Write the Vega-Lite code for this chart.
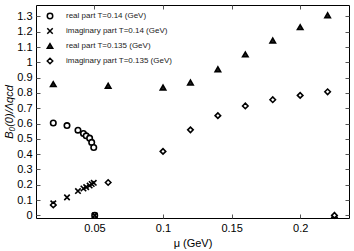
{
  "$schema": "https://vega.github.io/schema/vega-lite/v6.json",
  "width": 313,
  "height": 213,
  "padding": {"left": 36, "top": 5, "right": 5, "bottom": 33},
  "autosize": {"type": "none"},
  "background": "white",
  "config": {
    "view": {"stroke": "black", "strokeWidth": 1},
    "font": "Liberation Sans",
    "axis": {"domain": false, "grid": false, "tickColor": "#555", "labelColor": "black", "labelFont": "Liberation Sans", "titleFont": "Liberation Sans"}
  },
  "data": {"values": [
    {"mu": 0.02, "v": 0.604, "s": "real part T=0.14 (GeV)"},
    {"mu": 0.03, "v": 0.587, "s": "real part T=0.14 (GeV)"},
    {"mu": 0.038, "v": 0.557, "s": "real part T=0.14 (GeV)"},
    {"mu": 0.042, "v": 0.535, "s": "real part T=0.14 (GeV)"},
    {"mu": 0.044, "v": 0.52, "s": "real part T=0.14 (GeV)"},
    {"mu": 0.0465, "v": 0.505, "s": "real part T=0.14 (GeV)"},
    {"mu": 0.048, "v": 0.477, "s": "real part T=0.14 (GeV)"},
    {"mu": 0.0495, "v": 0.444, "s": "real part T=0.14 (GeV)"},
    {"mu": 0.0502, "v": 0.0, "s": "real part T=0.14 (GeV)"},
    {"mu": 0.02, "v": 0.079, "s": "imaginary part T=0.14 (GeV)"},
    {"mu": 0.03, "v": 0.118, "s": "imaginary part T=0.14 (GeV)"},
    {"mu": 0.038, "v": 0.159, "s": "imaginary part T=0.14 (GeV)"},
    {"mu": 0.042, "v": 0.176, "s": "imaginary part T=0.14 (GeV)"},
    {"mu": 0.044, "v": 0.185, "s": "imaginary part T=0.14 (GeV)"},
    {"mu": 0.0465, "v": 0.195, "s": "imaginary part T=0.14 (GeV)"},
    {"mu": 0.048, "v": 0.205, "s": "imaginary part T=0.14 (GeV)"},
    {"mu": 0.0495, "v": 0.213, "s": "imaginary part T=0.14 (GeV)"},
    {"mu": 0.0502, "v": 0.0, "s": "imaginary part T=0.14 (GeV)"},
    {"mu": 0.02, "v": 0.858, "s": "real part T=0.135 (GeV)"},
    {"mu": 0.06, "v": 0.847, "s": "real part T=0.135 (GeV)"},
    {"mu": 0.1, "v": 0.836, "s": "real part T=0.135 (GeV)"},
    {"mu": 0.12, "v": 0.868, "s": "real part T=0.135 (GeV)"},
    {"mu": 0.14, "v": 0.955, "s": "real part T=0.135 (GeV)"},
    {"mu": 0.16, "v": 1.052, "s": "real part T=0.135 (GeV)"},
    {"mu": 0.18, "v": 1.143, "s": "real part T=0.135 (GeV)"},
    {"mu": 0.2, "v": 1.23, "s": "real part T=0.135 (GeV)"},
    {"mu": 0.22, "v": 1.308, "s": "real part T=0.135 (GeV)"},
    {"mu": 0.225, "v": 0.0, "s": "real part T=0.135 (GeV)"},
    {"mu": 0.02, "v": 0.068, "s": "imaginary part T=0.135 (GeV)"},
    {"mu": 0.06, "v": 0.215, "s": "imaginary part T=0.135 (GeV)"},
    {"mu": 0.1, "v": 0.418, "s": "imaginary part T=0.135 (GeV)"},
    {"mu": 0.12, "v": 0.559, "s": "imaginary part T=0.135 (GeV)"},
    {"mu": 0.14, "v": 0.652, "s": "imaginary part T=0.135 (GeV)"},
    {"mu": 0.16, "v": 0.715, "s": "imaginary part T=0.135 (GeV)"},
    {"mu": 0.18, "v": 0.756, "s": "imaginary part T=0.135 (GeV)"},
    {"mu": 0.2, "v": 0.784, "s": "imaginary part T=0.135 (GeV)"},
    {"mu": 0.22, "v": 0.808, "s": "imaginary part T=0.135 (GeV)"},
    {"mu": 0.225, "v": 0.0, "s": "imaginary part T=0.135 (GeV)"}
  ]},
  "layer": [
    {
      "mark": {"type": "point", "filled": true, "stroke": "black", "strokeWidth": 1.6, "opacity": 1},
      "encoding": {
        "x": {"field": "mu", "type": "quantitative", "scale": {"domain": [0.0074, 0.2356], "nice": false, "zero": false},
          "axis": {"orient": "bottom", "values": [0.05, 0.1, 0.15, 0.2], "format": ".2~f", "tickSize": -4, "labelPadding": 8, "labelFontSize": 11, "title": "μ (GeV)", "titleFontSize": 11, "titleFontWeight": "normal", "titlePadding": 4}},
        "y": {"field": "v", "type": "quantitative", "scale": {"domain": [-0.017, 1.375], "nice": false, "zero": false},
          "axis": {"orient": "left", "values": [0, 0.1, 0.2, 0.3, 0.4, 0.5, 0.6, 0.7, 0.8, 0.9, 1, 1.1, 1.2, 1.3], "format": ".1~f", "tickSize": -4, "labelPadding": 8, "labelFontSize": 11, "title": "B₀(0)/Λqcd", "titleFontSize": 11, "titleFontWeight": "normal", "titleFontStyle": "italic", "titlePadding": 2}},
        "shape": {"field": "s", "type": "nominal",
          "scale": {"domain": ["real part T=0.14 (GeV)", "imaginary part T=0.14 (GeV)", "real part T=0.135 (GeV)", "imaginary part T=0.135 (GeV)"],
            "range": ["circle", "M-1,-1L1,1M1,-1L-1,1", "triangle-up", "diamond"]},
          "legend": {"orient": "none", "legendX": 10, "legendY": 7, "title": null, "labelFontSize": 8, "labelColor": "#222", "rowPadding": 3, "symbolSize": 30, "labelOffset": 12, "padding": 0,
            "encode": {"symbols": {"update": {"stroke": {"value": "black"}, "strokeWidth": {"value": 1.6}}}}}
        },
        "fill": {"field": "s", "type": "nominal",
          "scale": {"domain": ["real part T=0.14 (GeV)", "imaginary part T=0.14 (GeV)", "real part T=0.135 (GeV)", "imaginary part T=0.135 (GeV)"],
            "range": ["white", "white", "#222", "white"]}},
        "size": {"value": 30}
      }
    },
    {
      "mark": {"type": "point", "opacity": 0},
      "encoding": {
        "x": {"field": "mu", "type": "quantitative", "axis": {"orient": "top", "values": [0.05, 0.1, 0.15, 0.2], "tickSize": -4, "labels": false, "title": null}},
        "y": {"field": "v", "type": "quantitative", "axis": {"orient": "right", "values": [0, 0.1, 0.2, 0.3, 0.4, 0.5, 0.6, 0.7, 0.8, 0.9, 1, 1.1, 1.2, 1.3], "tickSize": -4, "labels": false, "title": null}}
      }
    }
  ],
  "resolve": {"axis": {"x": "independent", "y": "independent"}}
}
